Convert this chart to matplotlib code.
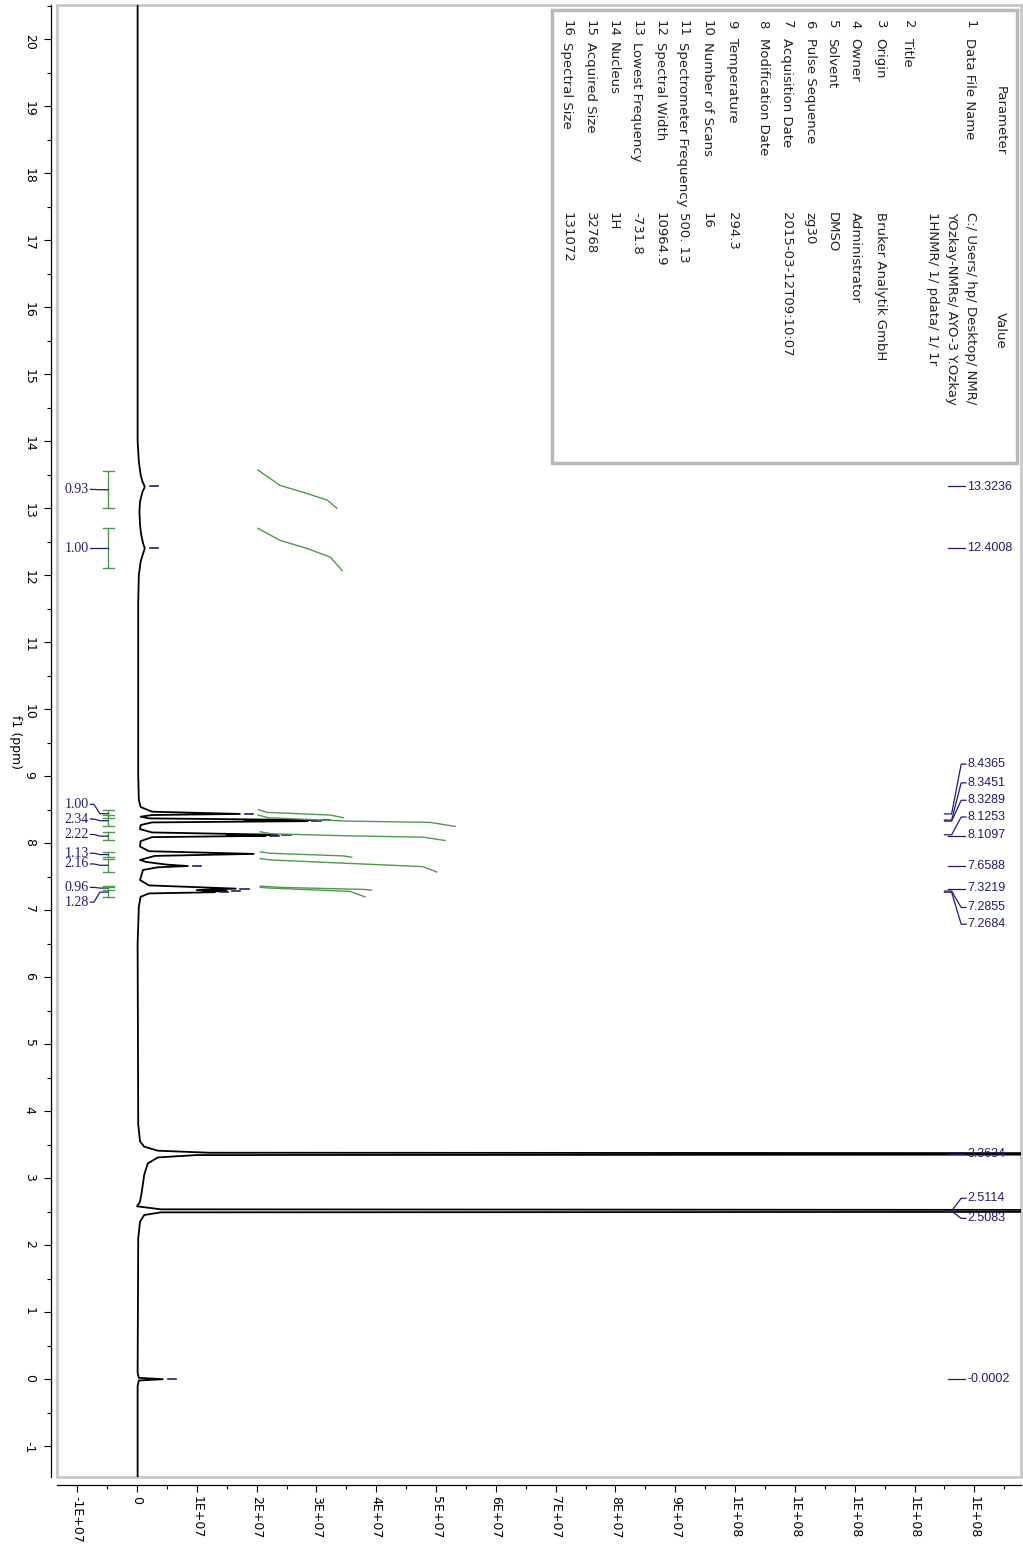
#!/usr/bin/env python
# 1H NMR spectrum (DMSO), drawn sideways like the scanned page

import numpy as np
import matplotlib
matplotlib.use('Agg')
import matplotlib.pyplot as plt
from matplotlib.patches import Rectangle
from matplotlib.ticker import MultipleLocator, FuncFormatter

plt.rcParams['axes.unicode_minus'] = False

# spectrum trace: ppm and intensity (in 1E+07)
trace_ppm = [20.6, 14.0, 13.7, 13.5, 13.4, 13.32, 13.24, 13.1, 12.95, 12.75, 12.6, 12.48, 12.40,
             12.32, 12.2, 12.0, 11.6, 9.0, 8.65, 8.54, 8.47, 8.4365, 8.42, 8.395, 8.37, 8.3451,
             8.337, 8.3289, 8.31, 8.27, 8.21, 8.16, 8.1253, 8.118, 8.1097, 8.09, 8.03, 7.95, 7.88,
             7.84, 7.81, 7.75, 7.72, 7.68, 7.6588, 7.64, 7.60, 7.45, 7.37, 7.3219, 7.30, 7.2855,
             7.277, 7.2684, 7.25, 7.20, 7.05, 6.5, 3.8, 3.55, 3.47, 3.41, 3.38, 3.3634, 3.345, 3.31,
             3.22, 3.05, 2.80, 2.65, 2.58, 2.535, 2.5114, 2.5098, 2.5083, 2.49, 2.45, 2.35, 2.1,
             0.1, 0.02, -0.0002, -0.02, -0.1, -1.6]
trace_int = [0.01, 0.01, 0.03, 0.06, 0.09, 0.13, 0.09, 0.05, 0.04, 0.05, 0.07, 0.10, 0.13,
             0.10, 0.06, 0.03, 0.02, 0.02, 0.03, 0.06, 0.25, 1.72, 0.25, 0.06, 0.2, 3.0,
             1.8, 2.85, 0.25, 0.06, 0.05, 0.25, 2.35, 1.5, 2.15, 0.25, 0.06, 0.05, 0.2,
             1.95, 0.3, 0.05, 0.15, 0.5, 0.85, 0.35, 0.1, 0.05, 0.2, 1.65, 1.0, 1.5,
             1.1, 1.3, 0.2, 0.06, 0.03, 0.01, 0.02, 0.05, 0.12, 0.35, 1.2, 40.0, 1.0, 0.35,
             0.18, 0.12, 0.08, 0.05, 0.0, 0.4, 40.0, 20.0, 40.0, 0.4, 0.12, 0.05, 0.02,
             0.01, 0.03, 0.43, 0.03, 0.01, 0.01]

# picked peaks
peak_ppm = [13.3236, 12.4008, 8.4365, 8.3451, 8.3289, 8.1253, 8.1097, 7.6588, 7.3219, 7.2855,
            7.2684, 3.3634, 2.5114, 2.5083, -0.0002]
peak_text = ['13.3236', '12.4008', '8.4365', '8.3451', '8.3289', '8.1253', '8.1097', '7.6588',
             '7.3219', '7.2855', '7.2684', '3.3634', '2.5114', '2.5083', '-0.0002']
peak_label_ppm = [13.32, 12.40, 9.18, 8.90, 8.64, 8.39, 8.12, 7.66, 7.33, 7.04, 6.79, 3.3634,
                  2.70, 2.40, 0.0]
peak_top = [0.13, 0.13, 1.72, 3.0, 2.85, 2.35, 2.15, 0.85, 1.65, 1.5, 1.3, None, None, None, 0.43]

# integrals
integral_text = ['0.93', '1.00', '1.00', '2.34', '2.22', '1.13', '2.16', '0.96', '1.28']
integral_top = [13.55, 12.70, 8.50, 8.42, 8.17, 7.87, 7.77, 7.36, 7.34]
integral_bot = [13.00, 12.10, 8.38, 8.25, 8.04, 7.79, 7.57, 7.30, 7.20]
integral_label_ppm = [13.28, 12.40, 8.58, 8.36, 8.13, 7.85, 7.69, 7.34, 7.12]
integral_curve_ppm = [
    [13.57, 13.34, 13.22, 13.12, 13.00],
    [12.70, 12.52, 12.40, 12.27, 12.07],
    [8.50, 8.46, 8.44, 8.42, 8.38],
    [8.42, 8.38, 8.33, 8.31, 8.25],
    [8.17, 8.14, 8.11, 8.09, 8.04],
    [7.87, 7.85, 7.81, 7.79],
    [7.77, 7.75, 7.65, 7.57],
    [7.36, 7.34, 7.31, 7.30],
    [7.34, 7.33, 7.28, 7.20],
]
integral_curve_int = [
    [2.02, 2.39, 2.84, 3.18, 3.34],
    [2.02, 2.39, 2.84, 3.23, 3.43],
    [2.03, 2.17, 2.70, 3.23, 3.45],
    [2.02, 2.20, 3.50, 4.90, 5.32],
    [2.06, 2.25, 3.50, 4.78, 5.15],
    [2.06, 2.22, 3.45, 3.59],
    [2.06, 2.22, 4.78, 5.01],
    [2.06, 2.40, 3.78, 3.92],
    [2.06, 2.22, 3.56, 3.81],
]

# parameter table
param_names = ['Data File Name', 'Title', 'Origin', 'Owner', 'Solvent', 'Pulse Sequence',
               'Acquisition Date', 'Modification Date', 'Temperature', 'Number of Scans',
               'Spectrometer Frequency', 'Spectral Width', 'Lowest Frequency', 'Nucleus',
               'Acquired Size', 'Spectral Size']
param_values = [['C:/ Users/ hp/ Desktop/ NMR/', 'YOzkay-NMRs/ AYO-3 Y.Ozkay', '1HNMR/ 1/ pdata/ 1/ 1r'],
                [], ['Bruker Analytik GmbH'], ['Administrator'], ['DMSO'], ['zg30'],
                ['2015-03-12T09:10:07'], [], ['294.3'], ['16'], ['500. 13'], ['10964.9'],
                ['-731.8'], ['1H'], ['32768'], ['131072']]

navy = '#1e1e6e'
green = '#4f9a4f'
E7 = 1e7

fig = plt.figure(figsize=(10.23, 15.44), dpi=100)
ax = fig.add_axes([57/1023, 1-1477/1544, 964/1023, 1472/1544])
ax.set_xlim(-1.338e7, 14.78e7)
ax.set_ylim(-1.46, 20.51)

# spectrum
ax.plot(np.array(trace_int)*E7, trace_ppm, color='black', lw=1.3)

# peak markers and labels
for p, t, lp, h in zip(peak_ppm, peak_text, peak_label_ppm, peak_top):
    if h is not None:
        ax.plot([(h+0.08)*E7, (h+0.22)*E7], [p, p], color=navy, lw=1.2)
    if abs(lp - p) < 0.02:
        ax.plot([13.56*E7, 13.85*E7], [p, p], color=navy, lw=0.9)
    else:
        ax.plot([13.5*E7, 13.62*E7, 13.78*E7, 13.86*E7], [p, p, lp, lp], color=navy, lw=0.9)
    ax.text(13.88*E7, lp, t, color=navy, fontsize=9, ha='left', va='center',
            family=['Liberation Sans', 'DejaVu Sans'])

# integrals
for k in range(len(integral_text)):
    top, bot = integral_top[k], integral_bot[k]
    ax.plot([-0.485*E7, -0.485*E7], [bot, top], color=green, lw=1)
    ax.plot([-0.57*E7, -0.38*E7], [top, top], color=green, lw=1)
    ax.plot([-0.57*E7, -0.38*E7], [bot, bot], color=green, lw=1)
    mid = (top + bot) / 2
    lp = integral_label_ppm[k]
    ax.plot([-0.485*E7, -0.62*E7, -0.72*E7, -0.78*E7], [mid, mid, lp, lp], color=navy, lw=0.9)
    ax.text(-0.81*E7, lp, integral_text[k], color=navy, fontsize=10, ha='right', va='center',
            family=['Liberation Serif', 'DejaVu Serif'])
    ax.plot(np.array(integral_curve_int[k])*E7, integral_curve_ppm[k], color=green, lw=1)

# axes styling
for s in ['top', 'right']:
    ax.spines[s].set_visible(False)
ax.spines['left'].set_position(('outward', 4.3))
ax.spines['bottom'].set_position(('outward', 5.8))
ax.spines['left'].set_linewidth(0.9)
ax.spines['bottom'].set_linewidth(0.9)
ax.add_patch(Rectangle((0, 0), 1, 1, transform=ax.transAxes, fill=False, ec='#c8c8c8',
                       lw=2, clip_on=False))

ax.xaxis.set_major_locator(MultipleLocator(1e7))
ax.xaxis.set_minor_locator(MultipleLocator(5e6))
ax.yaxis.set_major_locator(MultipleLocator(1))
ax.yaxis.set_minor_locator(MultipleLocator(0.5))


def fmt_int(v, pos):
    if abs(v) < 1:
        return '0'
    return '%.0E' % v


ax.xaxis.set_major_formatter(FuncFormatter(fmt_int))
ax.tick_params(which='major', length=5, width=0.8, direction='out', labelsize=9)
ax.tick_params(which='minor', length=3, width=0.8, direction='out')
ax.tick_params(axis='x', labelrotation=-90, pad=3)
ax.tick_params(axis='y', labelrotation=-90, pad=6)

# overlay in pixel coordinates for the table and the axis title
ov = fig.add_axes([0, 0, 1, 1], facecolor='none')
ov.set_xlim(0, 1023)
ov.set_ylim(1544, 0)
ov.axis('off')

ov.text(15, 742, 'f1 (ppm)', rotation=-90, ha='center', va='center', fontsize=9)

ov.add_patch(Rectangle((552, 10), 465, 453, fc='white', ec='#b8b8b8', lw=2.5))
ov.text(1000, 121, 'Parameter', rotation=-90, rotation_mode='anchor', ha='center', va='center',
        fontsize=9.5, color='#222222')
ov.text(1000, 330, 'Value', rotation=-90, rotation_mode='anchor', ha='center', va='center',
        fontsize=9.5, color='#222222')
row_x = [970, 908, 880, 855, 832, 810, 787, 763, 732, 707, 683, 660, 637, 613, 590, 567]
for n, (name, vals, x) in enumerate(zip(param_names, param_values, row_x), start=1):
    kw = dict(rotation=-90, rotation_mode='anchor', ha='left', va='center', fontsize=9.5,
              color='#222222')
    ov.text(x, 20, str(n), **kw)
    ov.text(x, 38 if n < 10 else 42, name, **kw)
    for j, v in enumerate(vals):
        ov.text(x - 18.5*j, 212, v, **kw)

fig.savefig('out.png', dpi=100, facecolor='white')
